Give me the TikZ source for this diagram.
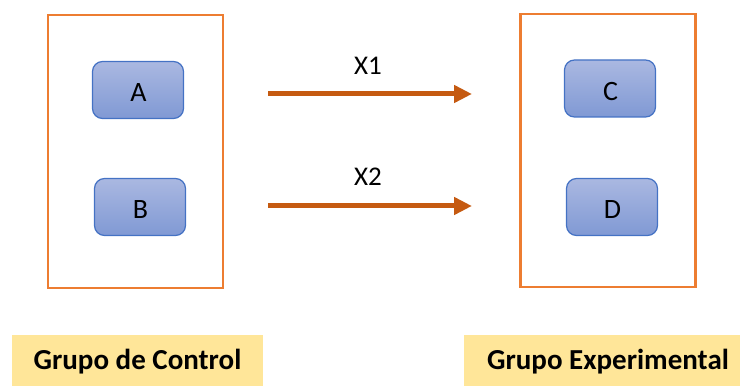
\documentclass[tikz,border=0pt]{standalone}
\usepackage{fontspec}
\setmainfont{Carlito}
\usetikzlibrary{arrows.meta}

\definecolor{frameorange}{HTML}{ED7D31}
\definecolor{arroworange}{HTML}{C55A11}
\definecolor{boxblue}{HTML}{4472C4}
\definecolor{boxtop}{HTML}{AAB8E1}
\definecolor{boxbottom}{HTML}{8099D4}
\definecolor{labelgold}{HTML}{FFE699}

\tikzset{
	groupframe/.style={draw=frameorange,line width=2.2pt,minimum width=175pt,minimum height=273pt},
	member/.style={draw=boxblue,line width=1.2pt,rounded corners=10pt,top color=boxtop,bottom color=boxbottom,
		minimum width=91pt,minimum height=57pt},
	membertext/.style={font=\fontsize{28}{30}\selectfont},
	treat/.style={draw=arroworange,line width=5pt,-{Triangle[length=18pt,width=17pt]}},
	treatlabel/.style={font=\fontsize{27}{29}\selectfont},
	grouplabel/.style={fill=labelgold,minimum height=51pt},
	grouptext/.style={font=\fontsize{29}{31}\selectfont\bfseries}
}

\begin{document}
\begin{tikzpicture}[x=1pt,y=-1pt]
		\useasboundingbox (0,0) rectangle (741,387);

		% frames
		\node[groupframe] (control) at (135.5,151.5) {};
		\node[groupframe] (experim) at (608,150.5) {};

		% members
		\node[member] (a) at (138,90) {};
		\node[member] (b) at (140,207) {};
		\node[member] (c) at (610,88.5) {};
		\node[member] (d) at (612,207) {};
		\node[membertext] at (138.5,93) {A};
		\node[membertext] at (140.5,210) {B};
		\node[membertext] at (610.5,92) {C};
		\node[membertext] at (612.5,209.5) {D};

		% treatments
		\coordinate (x1s) at (268,94);
		\coordinate (x1e) at (472,94);
		\coordinate (x2s) at (268,206);
		\coordinate (x2e) at (472,206);
		\draw[treat] (x1s) -- (x1e);
		\draw[treat] (x2s) -- (x2e);
		\node[treatlabel] (x1) at (368,66) {X1};
		\node[treatlabel] (x2) at (368,177) {X2};

		% labels
		\node[grouplabel,minimum width=251pt] (controllbl) at (137.5,360.5) {};
		\node[grouplabel,minimum width=276pt] (experimlbl) at (602,360.5) {};
		\node[grouptext] at (137.5,362) {Grupo de Control};
		\node[grouptext] at (608,362) {Grupo Experimental};
\end{tikzpicture}
\end{document}
